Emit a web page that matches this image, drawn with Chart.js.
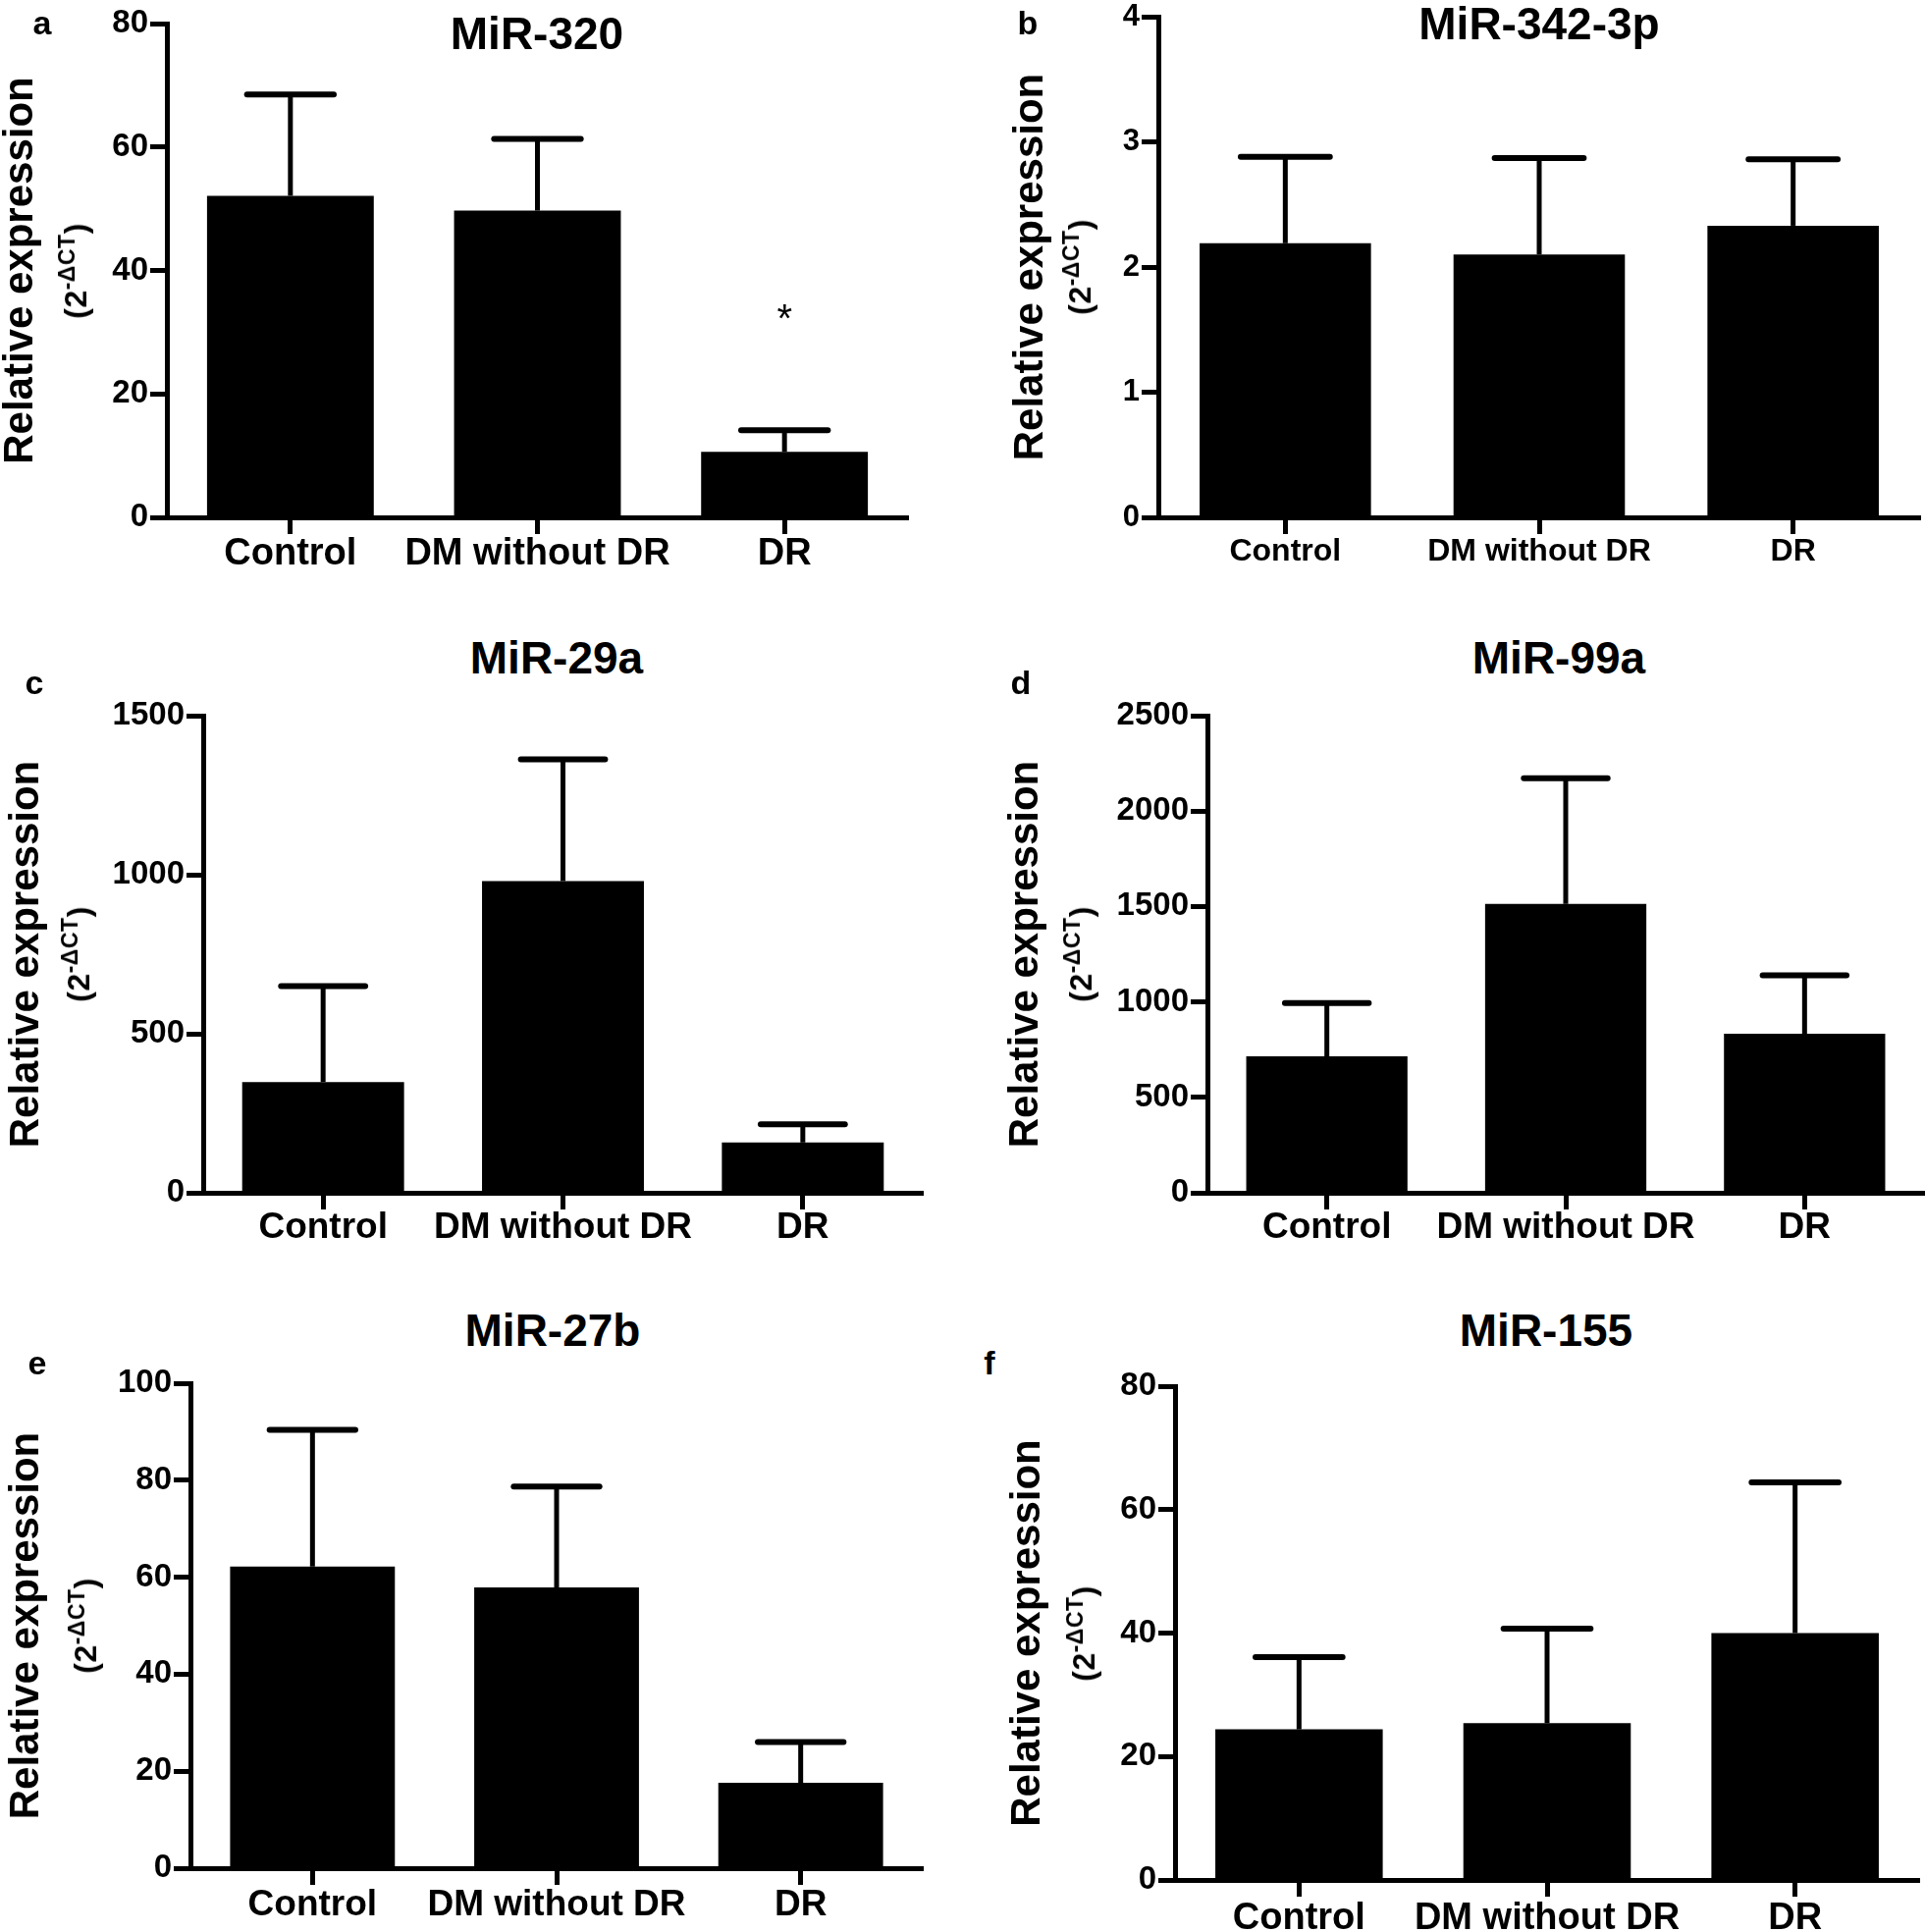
<!DOCTYPE html>
<html><head><meta charset="utf-8">
<script src="https://cdn.jsdelivr.net/npm/chart.js@4.4.1/dist/chart.umd.min.js"></script>
<style>
html,body{margin:0;padding:0;background:#fff;}
#wrap{position:relative;width:1961px;height:1968px;overflow:hidden;background:#fff;}
.box{position:absolute;}
.txt{position:absolute;font-family:'Liberation Sans',Arial,sans-serif;font-weight:bold;color:#000;white-space:nowrap;transform:translate(-50%,-50%);line-height:1;}
.sub{transform:translate(-50%,-50%) rotate(-90deg);letter-spacing:0.5px;}
.sub sup{font-size:0.72em;vertical-align:0.5em;line-height:0;}
</style></head><body><div id="wrap"></div>
<script>
// ---------------- data ----------------
const categories = ['Control', 'DM without DR', 'DR'];
const panelTitles = ['MiR-320', 'MiR-342-3p', 'MiR-29a', 'MiR-99a', 'MiR-27b', 'MiR-155'];
const panelLetters = ['a', 'b', 'c', 'd', 'e', 'f'];
const yAxisLabel = 'Relative expression';

const miR320Mean = [52.1, 49.7, 10.6];
const miR320SD   = [16.4, 11.6, 3.5];
const miR342Mean = [2.19, 2.10, 2.33];
const miR342SD   = [0.69, 0.77, 0.53];
const miR29aMean = [348, 980, 158];
const miR29aSD   = [302, 383, 57];
const miR99aMean = [715, 1513, 833];
const miR99aSD   = [279, 659, 307];
const miR27bMean = [62.2, 57.9, 17.6];
const miR27bSD   = [28.2, 20.8, 8.4];
const miR155Mean = [24.4, 25.4, 40.0];
const miR155SD   = [11.7, 15.3, 24.4];

const yMaxes = [80, 4, 1500, 2500, 100, 80];
const ySteps = [20, 1, 500, 500, 20, 20];
const significance = [[null, null, '*'], null, null, null, null, null];
const significanceY = [[null, null, 33], null, null, null, null, null];

const seriesMeans = [miR320Mean, miR342Mean, miR29aMean, miR99aMean, miR27bMean, miR155Mean];
const seriesSDs = [miR320SD, miR342SD, miR29aSD, miR99aSD, miR27bSD, miR155SD];

// ---------------- layout (pixels) ----------------
const geo = [
  {L:170,  R:925,  T:24,  B:527,  tick:33, cat:38, catPad:-2, tt:[547,34],    letter:[43,23],    yTitleX:21,   subX:77},
  {L:1180, R:1956, T:17,  B:527,  tick:31, cat:32, catPad:-1, tt:[1568,24],   letter:[1047,23],  yTitleX:1050, subX:1100},
  {L:207,  R:940,  T:729, B:1215, tick:33, cat:37, catPad:-3, tt:[567,670],   letter:[35,695],   yTitleX:27,   subX:80},
  {L:1230, R:1960, T:729, B:1215, tick:33, cat:37, catPad:-3, tt:[1588,670],  letter:[1040,695], yTitleX:1045, subX:1101},
  {L:194,  R:940,  T:1409,B:1903, tick:33, cat:37, catPad:-1, tt:[563,1355],  letter:[38,1388],  yTitleX:27,   subX:87},
  {L:1197, R:1955, T:1412,B:1915, tick:33, cat:38, catPad:0,  tt:[1575,1355], letter:[1008,1388], yTitleX:1047, subX:1104}
];
const FONT = "'Liberation Sans', Arial, sans-serif";
const TITLE_SIZE = 46, LETTER_SIZE = 34, YTITLE_SIZE = 42, SUB_SIZE = 32;
const PAD_TOP = 25, PAD_RIGHT = 4, X_H = 80, TICK_LEN = 17, LINE_W = 5;

const wrap = document.getElementById('wrap');

function addText(html, x, y, size, cls) {
  const d = document.createElement('div');
  d.className = 'txt' + (cls ? ' ' + cls : '');
  d.style.left = x + 'px';
  d.style.top = y + 'px';
  d.style.fontSize = size + 'px';
  d.innerHTML = html;
  wrap.appendChild(d);
}

const errorBarPlugin = {
  id: 'errorBars',
  afterDatasetsDraw(chart) {
    const ctx = chart.ctx;
    const meta = chart.getDatasetMeta(0);
    const ys = chart.scales.y;
    const ds = chart.data.datasets[0];
    ctx.save();
    ctx.strokeStyle = '#000';
    meta.data.forEach((bar, i) => {
      const top = ys.getPixelForValue(ds.data[i] + ds.sd[i]);
      const half = bar.width * 0.26;
      ctx.lineWidth = LINE_W;
      ctx.lineCap = 'butt';
      ctx.beginPath();
      ctx.moveTo(bar.x, bar.y);
      ctx.lineTo(bar.x, top);
      ctx.stroke();
      ctx.lineWidth = 6;
      ctx.lineCap = 'round';
      ctx.beginPath();
      ctx.moveTo(bar.x - half, top);
      ctx.lineTo(bar.x + half, top);
      ctx.stroke();
      if (ds.sig && ds.sig[i]) {
        ctx.fillStyle = '#000';
        ctx.font = '40px ' + FONT;
        ctx.textAlign = 'center';
        ctx.textBaseline = 'middle';
        ctx.fillText(ds.sig[i], bar.x, ys.getPixelForValue(ds.sigY[i]) + 7);
      }
    });
    ctx.restore();
  }
};

geo.forEach((g, p) => {
  const left = g.yTitleX - YTITLE_SIZE / 2;
  const top = g.T - PAD_TOP;
  const w = g.R + PAD_RIGHT - left;
  const h = g.B + X_H - top;
  const yW = g.L - left;
  const box = document.createElement('div');
  box.className = 'box';
  box.style.left = left + 'px';
  box.style.top = top + 'px';
  box.style.width = w + 'px';
  box.style.height = h + 'px';
  const cv = document.createElement('canvas');
  box.appendChild(cv);
  wrap.appendChild(box);

  new Chart(cv, {
    type: 'bar',
    data: {
      labels: categories,
      datasets: [{
        data: seriesMeans[p],
        sd: seriesSDs[p],
        sig: significance[p],
        sigY: significanceY[p],
        backgroundColor: '#000',
        borderWidth: 0,
        categoryPercentage: 0.675,
        barPercentage: 1.0
      }]
    },
    options: {
      responsive: true,
      maintainAspectRatio: false,
      devicePixelRatio: 1,
      animation: false,
      events: [],
      layout: { padding: { top: PAD_TOP, right: PAD_RIGHT, left: 0, bottom: 0 } },
      plugins: { legend: { display: false }, tooltip: { enabled: false }, title: { display: false } },
      scales: {
        x: {
          type: 'category',
          offset: true,
          grid: { display: true, drawOnChartArea: false, drawTicks: true, tickLength: TICK_LEN, tickWidth: LINE_W, tickColor: '#000', offset: false },
          border: { display: true, color: '#000', width: LINE_W },
          ticks: { color: '#000', padding: g.catPad, maxRotation: 0, autoSkip: false, font: { family: FONT, size: g.cat, weight: 'bold' } },
          afterFit(s) { s.height = X_H; }
        },
        y: {
          min: 0,
          max: yMaxes[p],
          ticks: { stepSize: ySteps[p], color: '#000', padding: 2, callback: v => String(v), font: { family: FONT, size: g.tick, weight: 'bold' } },
          grid: { display: true, drawOnChartArea: false, drawTicks: true, tickLength: TICK_LEN, tickWidth: LINE_W, tickColor: '#000' },
          border: { display: true, color: '#000', width: LINE_W },
          title: { display: true, text: yAxisLabel, color: '#000', padding: 0, font: { family: FONT, size: YTITLE_SIZE, weight: 'bold', lineHeight: 1 } },
          afterFit(s) { s.width = yW; }
        }
      }
    },
    plugins: [errorBarPlugin]
  });

  addText(panelTitles[p], g.tt[0], g.tt[1], TITLE_SIZE);
  addText(panelLetters[p], g.letter[0], g.letter[1], LETTER_SIZE);
  addText('(2<sup>-\u0394CT</sup>)', g.subX, (g.T + g.B) / 2, SUB_SIZE, 'sub');
});
</script></body></html>
